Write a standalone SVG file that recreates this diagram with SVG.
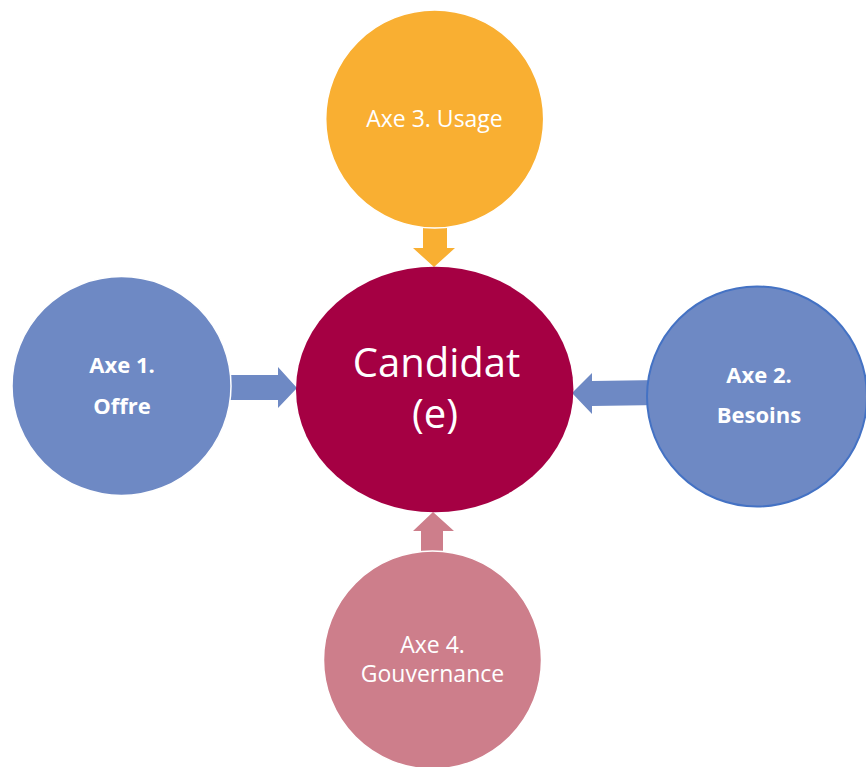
<svg xmlns="http://www.w3.org/2000/svg" width="866" height="767" viewBox="0 0 866 767">
  <style>
    .lbl { font-family: "Open Sans", "Liberation Sans", sans-serif; fill: #ffffff; text-anchor: middle; }
    .reg { font-size: 23px; }
    .bold { font-size: 22px; font-weight: bold; }
    .big { font-size: 40px; }
    .ring { stroke: #ffffff; stroke-width: 1.5; }
  </style>
  <rect width="866" height="767" fill="#ffffff"/>

  <!-- block arrows pointing at the centre, drawn beneath the circles -->
  <g id="connectors">
    <polygon points="225,375 278,375 278,367 297,388 278,408 278,400 225,400" fill="#6E89C4"/>
    <polygon points="660,380 592,381 592,373 572,393 592,414 592,406 660,405" fill="#6E89C4"/>
    <polygon points="423,220 447,220 447,248 455,248 434,267 413,248 423,248" fill="#F9AF32"/>
    <polygon points="421,558 443,558 443,531 454,531 433,512 413,531 421,531" fill="#CD7E8B"/>
  </g>

  <g id="axe1">
    <circle class="ring" cx="121.5" cy="386" r="109.5" fill="#6E89C4"/>
    <text class="lbl bold" x="122" y="373">Axe 1.</text>
    <text class="lbl bold" x="122" y="414">Offre</text>
  </g>

  <g id="axe2">
    <circle cx="757" cy="396.5" r="110" fill="#6E89C4" stroke="#4472C4" stroke-width="2"/>
    <text class="lbl bold" x="759" y="383">Axe 2.</text>
    <text class="lbl bold" x="759" y="423">Besoins</text>
  </g>

  <g id="axe3">
    <circle class="ring" cx="434.7" cy="119" r="109" fill="#F9AF32"/>
    <text class="lbl reg" x="434.5" y="127">Axe 3. Usage</text>
  </g>

  <g id="axe4">
    <circle class="ring" cx="432.5" cy="660" r="109" fill="#CD7E8B"/>
    <text class="lbl reg" x="432.5" y="653">Axe 4.</text>
    <text class="lbl reg" x="432.5" y="682">Gouvernance</text>
  </g>

  <g id="candidat">
    <ellipse cx="434.7" cy="389.5" rx="138.7" ry="122.8" fill="#A50043"/>
    <text class="lbl big" x="436.5" y="377">Candidat</text>
    <text class="lbl big" x="435" y="428">(e)</text>
  </g>
</svg>
